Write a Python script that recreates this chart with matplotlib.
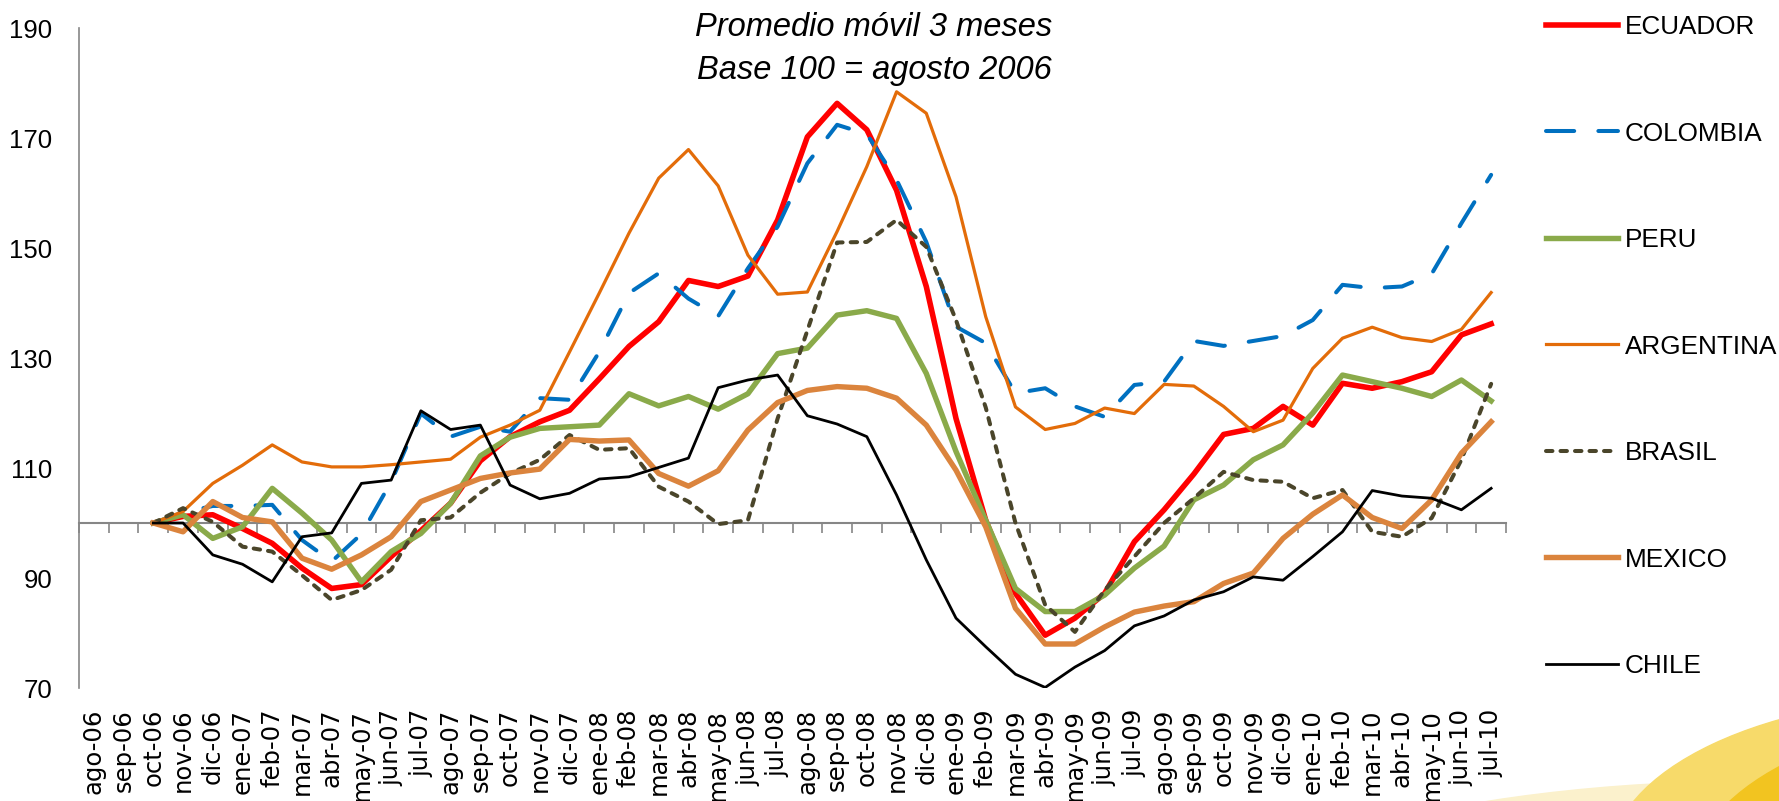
import matplotlib.pyplot as plt
import numpy as np
from matplotlib.patches import Ellipse

# Promedio movil 3 meses, base 100 = agosto 2006
months = ["ago-06", "sep-06", "oct-06", "nov-06", "dic-06",
          "ene-07", "feb-07", "mar-07", "abr-07", "may-07", "jun-07", "jul-07",
          "ago-07", "sep-07", "oct-07", "nov-07", "dic-07",
          "ene-08", "feb-08", "mar-08", "abr-08", "may-08", "jun-08", "jul-08",
          "ago-08", "sep-08", "oct-08", "nov-08", "dic-08",
          "ene-09", "feb-09", "mar-09", "abr-09", "may-09", "jun-09", "jul-09",
          "ago-09", "sep-09", "oct-09", "nov-09", "dic-09",
          "ene-10", "feb-10", "mar-10", "abr-10", "may-10", "jun-10", "jul-10"]

ecuador = [None, None, 100, 101.2, 101.5, 99.0, 96.3, 91.8, 88.1, 88.8, 93.9, 98.6,
           103.6, 111.3, 115.7, 118.4, 120.5, 126.2, 132.1, 136.6, 144.1, 143.0, 144.9, 155.1,
           170.2, 176.3, 171.5, 160.5, 143.0, 119.0, 100.5, 87.2, 79.6, 82.7, 87.2, 96.6,
           102.4, 108.9, 116.1, 117.2, 121.2, 117.8, 125.4, 124.5, 125.7, 127.5, 134.2, 136.2]
colombia = [None, None, 100, 101.9, 103.1, 103.1, 103.3, 96.9, 93.0, 98.0, 107.5, 119.9,
            115.7, 117.5, 116.6, 122.7, 122.4, 131.1, 141.8, 145.4, 140.8, 137.6, 146.3, 153.9,
            165.4, 172.4, 170.7, 162.4, 151.1, 135.7, 132.7, 123.6, 124.5, 121.2, 119.3, 125.1,
            125.7, 133.1, 132.2, 133.1, 134.0, 136.9, 143.3, 142.7, 143.0, 145.3, 154.5, 163.3]
peru = [None, None, 100, 101.5, 97.2, 99.3, 106.3, 101.8, 96.9, 89.3, 94.8, 98.1,
        103.6, 112.2, 115.6, 117.2, 117.5, 117.8, 123.5, 121.3, 123.0, 120.7, 123.5, 130.8,
        131.8, 137.8, 138.6, 137.2, 127.2, 113.0, 100.5, 88.1, 83.9, 83.9, 86.9, 91.8,
        95.8, 104.2, 106.9, 111.5, 114.2, 120.0, 126.9, 125.7, 124.5, 123.0, 126.0, 122.2]
argentina = [None, None, 100, 102.1, 107.2, 110.5, 114.2, 111.1, 110.2, 110.2, 110.6, 111.1,
             111.6, 115.6, 117.8, 120.5, 131.1, 141.8, 152.7, 162.7, 167.9, 161.3, 148.7, 141.6,
             142.0, 153.0, 164.8, 178.4, 174.5, 159.3, 137.5, 121.1, 117.0, 118.1, 120.9, 119.9,
             125.2, 124.9, 121.2, 116.6, 118.7, 128.1, 133.6, 135.6, 133.7, 133.0, 135.2, 141.9]
brasil = [None, None, 100, 102.7, 100.2, 95.7, 94.8, 90.5, 86.0, 87.8, 91.5, 100.5,
          101.0, 105.5, 109.0, 111.5, 116.0, 113.3, 113.6, 106.6, 103.9, 99.8, 100.5, 119.0,
          135.0, 151.0, 151.1, 155.1, 150.2, 136.9, 121.0, 100.0, 85.1, 80.2, 87.8, 93.9,
          100.0, 104.5, 109.3, 107.8, 107.5, 104.5, 106.0, 98.4, 97.5, 100.9, 111.5, 125.3]
mexico = [None, None, 100, 98.4, 103.9, 101.0, 100.2, 93.6, 91.6, 94.2, 97.5, 103.9,
          106.0, 108.1, 109.1, 109.8, 115.2, 114.9, 115.1, 109.0, 106.7, 109.5, 116.9, 121.9,
          124.1, 124.8, 124.5, 122.7, 117.8, 109.6, 99.3, 84.5, 78.0, 78.0, 81.1, 83.8,
          84.9, 85.7, 89.0, 90.9, 97.2, 101.6, 105.1, 101.0, 99.0, 104.2, 112.7, 118.4]
chile = [None, None, 100, 100.0, 94.2, 92.5, 89.3, 97.5, 98.2, 107.2, 107.8, 120.4,
         117.0, 117.8, 106.9, 104.4, 105.4, 108.0, 108.4, 110.1, 111.8, 124.6, 126.0, 126.9,
         119.5, 118.0, 115.7, 105.1, 93.3, 82.7, 77.5, 72.5, 70.1, 73.8, 76.8, 81.3,
         83.1, 86.0, 87.5, 90.2, 89.6, 93.9, 98.4, 105.9, 104.9, 104.5, 102.4, 106.3]

series = [
    ("ECUADOR", ecuador, dict(color="#FF0000", lw=4.0)),
    ("COLOMBIA", colombia, dict(color="#0070C0", lw=2.9, ls=(0, (7, 6)), dash_capstyle="round")),
    ("PERU", peru, dict(color="#8AAA4A", lw=3.9)),
    ("ARGENTINA", argentina, dict(color="#E36C09", lw=2.3)),
    ("BRASIL", brasil, dict(color="#4A452A", lw=2.9, ls=(0, (1.6, 2.0)), dash_capstyle="round")),
    ("MEXICO", mexico, dict(color="#DB843D", lw=3.9)),
    ("CHILE", chile, dict(color="#000000", lw=2.0)),
]

axis_gray = "#868686"

fig = plt.figure(figsize=(17.79, 8.01), dpi=100)
ax = fig.add_axes([79 / 1779, 113 / 801, 1427 / 1779, 660 / 801])
ax.patch.set_alpha(0)

# yellow swoosh in the lower right corner (slide background)
fig.patches.append(Ellipse((1760 / 1779, -150 / 801), 1150 / 1779, 340 / 801,
                           transform=fig.transFigure, color="#FBF1CC", zorder=-3))
fig.patches.append(Ellipse((1960 / 1779, -60 / 801), 700 / 1779, 330 / 801,
                           transform=fig.transFigure, color="#F7DA6A", zorder=-2))
fig.patches.append(Ellipse((2010 / 1779, -80 / 801), 640 / 1779, 330 / 801,
                           transform=fig.transFigure, color="#F2C420", zorder=-1))

x = np.arange(len(months))
handles = []
for name, vals, style in series:
    y = np.array(vals, dtype=float)
    line, = ax.plot(x, y, label=name, solid_joinstyle="round", **style)
    handles.append(line)

ax.set_xlim(-0.5, len(months) - 0.5)
ax.set_ylim(70, 190)

# y axis
ax.set_yticks(np.arange(70, 191, 20))
ax.tick_params(axis="y", length=0, pad=19, labelsize=18.5)
for lab in ax.get_yticklabels():
    lab.set_fontfamily("Liberation Sans")
ax.spines["left"].set_color(axis_gray)
ax.spines["left"].set_linewidth(1.2)
for s in ["top", "right", "bottom"]:
    ax.spines[s].set_visible(False)

# month labels at the bottom, rotated
ax.set_xticks(x)
ax.set_xticklabels(months, rotation=90, fontsize=17.5, fontfamily="DejaVu Sans")
ax.tick_params(axis="x", length=0, pad=15)

# category axis line crossing at 100
sec = ax.secondary_xaxis((100 - 70) / 120)
sec.set_xticks(np.arange(-0.5, len(months), 1.0))
sec.set_xticklabels([])
sec.tick_params(length=7, width=1.2, color=axis_gray, direction="out")
sec.spines["bottom"].set_color(axis_gray)
sec.spines["bottom"].set_linewidth(1.5)

# title
fig.text(874 / 1779, 1 - 27 / 801, "Promedio móvil 3 meses", ha="center", va="center",
         fontsize=23.5, style="italic", fontfamily="Liberation Sans")
fig.text(874 / 1779, 1 - 70 / 801, "Base 100 = agosto 2006", ha="center", va="center",
         fontsize=23.5, style="italic", fontfamily="Liberation Sans")

# legend on the right
fig.legend(handles=handles, loc="upper left", bbox_to_anchor=(1546 / 1779, 1 - 15 / 801),
           frameon=False, borderpad=0, borderaxespad=0, handlelength=2.75,
           handletextpad=0.28, labelspacing=3.16,
           prop={"family": "Liberation Sans", "size": 18.8})

fig.savefig("out.png", dpi=100)
